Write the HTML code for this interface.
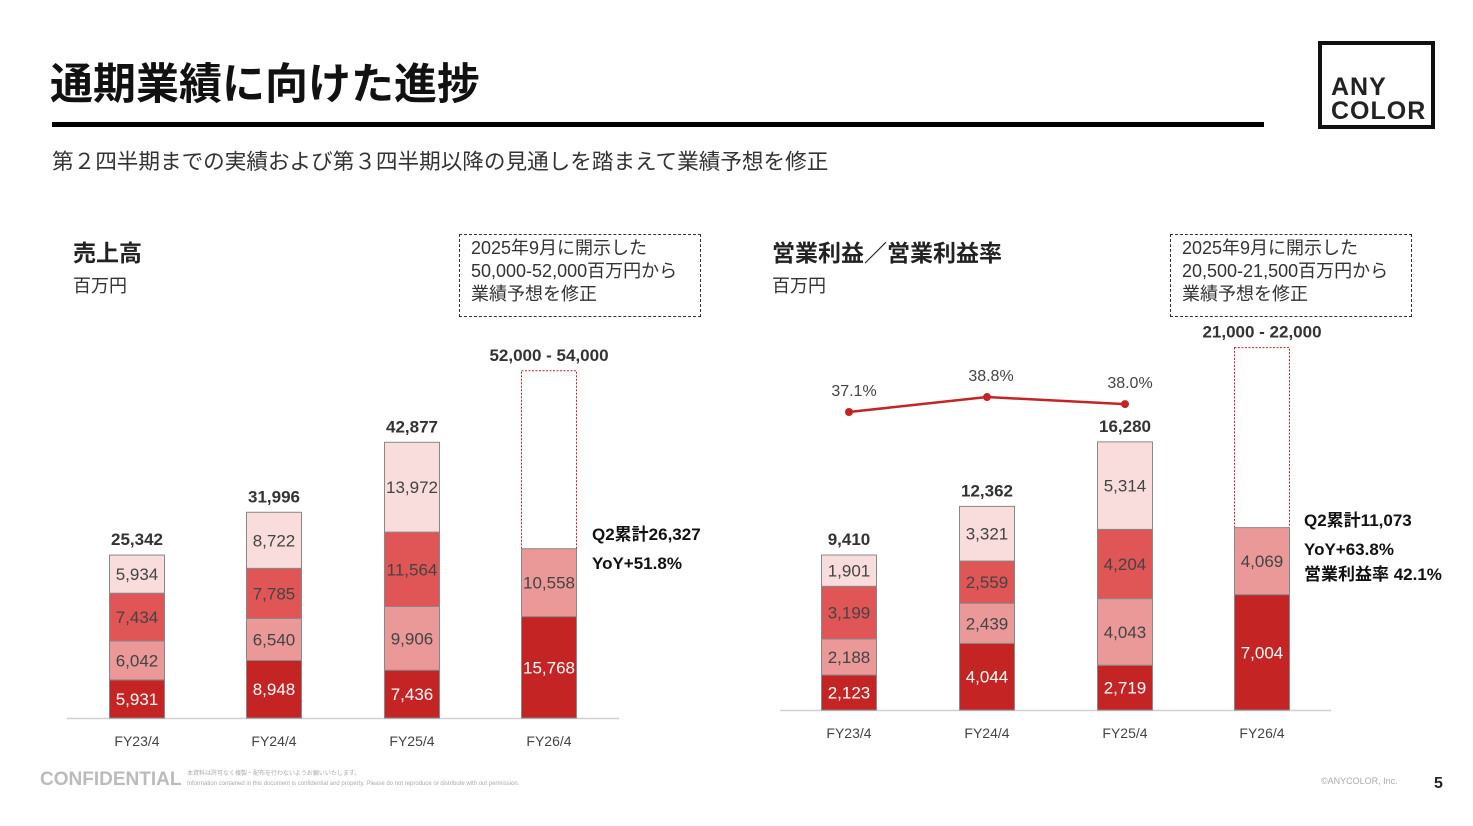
<!DOCTYPE html>
<html><head><meta charset="utf-8">
<style>
body{margin:0;width:1473px;height:826px;background:#fff;font-family:"Liberation Sans","Noto Sans CJK JP",sans-serif;position:relative;overflow:hidden;color:#222}
.abs{position:absolute}
.note{position:absolute;border:1.5px dashed #333;font-size:18px;line-height:23px;padding:2px 11px;color:#333;width:218px;height:78px;box-sizing:border-box}
</style></head><body>
<div class="abs" style="left:50px;top:50px;font-size:43px;font-weight:bold;color:#111">通期業績に向けた進捗</div>
<div class="abs" style="left:52px;top:122px;width:1212px;height:5px;background:#000"></div>
<div class="abs" style="left:1318px;top:41px;width:117px;height:88px;box-sizing:border-box;border:4px solid #111;font-weight:900;font-size:25px;line-height:24px;padding:30px 0 0 9px;letter-spacing:1px">ANY<br>COLOR</div>
<div class="abs" style="left:52px;top:145px;font-size:21.6px;color:#333">第２四半期までの実績および第３四半期以降の見通しを踏まえて業績予想を修正</div>

<div class="abs" style="left:73px;top:234px;font-size:23px;font-weight:bold">売上高</div>
<div class="abs" style="left:73px;top:272px;font-size:18px;color:#333">百万円</div>
<div class="note" style="left:459px;top:234px;width:242px;height:83px">2025年9月に開示した<br>50,000-52,000百万円から<br>業績予想を修正</div>

<div class="abs" style="left:772px;top:234px;font-size:23px;font-weight:bold">営業利益／営業利益率</div>
<div class="abs" style="left:772px;top:272px;font-size:18px;color:#333">百万円</div>
<div class="note" style="left:1170px;top:234px;width:242px;height:83px">2025年9月に開示した<br>20,500-21,500百万円から<br>業績予想を修正</div>

<svg class="abs" style="left:0;top:0" width="1473" height="826" id="chart"></svg>

<div class="abs" style="left:40px;top:769px;font-size:19px;font-weight:bold;color:#bbb">CONFIDENTIAL</div>
<div class="abs" style="left:187px;top:769px;font-size:6px;line-height:10px;color:#aaa">本資料は許可なく複製・配布を行わないようお願いいたします。<br>Information contained in this document is confidential and property. Please do not reproduce or distribute with out permission.</div>
<div class="abs" style="left:1321px;top:776px;font-size:9px;color:#aaa">©ANYCOLOR, Inc.</div>
<div class="abs" style="left:1434px;top:775px;font-size:16px;font-weight:bold">5</div>

<script>
const categories=["FY23/4","FY24/4","FY25/4","FY26/4"];
const salesQ1=[5931,8948,7436,15768];
const salesQ2=[6042,6540,9906,10558];
const salesQ3=[7434,7785,11564,null];
const salesQ4=[5934,8722,13972,null];
const salesTotals=["25,342","31,996","42,877","52,000 - 54,000"];
const salesForecastHigh=54000;
const opQ1=[2123,4044,2719,7004];
const opQ2=[2188,2439,4043,4069];
const opQ3=[3199,2559,4204,null];
const opQ4=[1901,3321,5314,null];
const opTotals=["9,410","12,362","16,280","21,000 - 22,000"];
const opForecastHigh=22000;
const opMargin=[37.1,38.8,38.0];

const svg=document.getElementById('chart');
const NS="http://www.w3.org/2000/svg";
function mk(tag,attrs,parent){const e=document.createElementNS(NS,tag);for(const k in attrs)e.setAttribute(k,attrs[k]);(parent||svg).appendChild(e);return e;}
function txt(x,y,s,size,fill,weight,anchor){const t=mk('text',{x:x,y:y,'font-size':size,fill:fill,'font-weight':weight||'normal','text-anchor':anchor||'middle','font-family':'"Liberation Sans","Noto Sans CJK JP",sans-serif'});t.textContent=s;return t;}
const colors=["#c52424","#ea9898","#e05555","#f9dcdc"];
const txtColors=["#fff","#444","#444","#444"];

function drawChart(cfg){
  const sy=v=>cfg.base-v*cfg.scale;
  const ax=mk('line',{x1:cfg.axis0,x2:cfg.axis1,y1:cfg.base+0.5,y2:cfg.base+0.5,stroke:'#d0d0d0','stroke-width':1.5});
  
  
  categories.forEach((c,i)=>{
    const cx=cfg.xs[i],w=55;
    let acc=0;
    if(i===3){
      const r=mk('rect',{x:cx-w/2,y:sy(cfg.high),width:w,height:cfg.high*cfg.scale,fill:'#fff',stroke:'#c52424','stroke-width':1,'stroke-dasharray':'2,1.5'});
      
      
    }
    cfg.series.forEach((s,k)=>{
      const v=s[i]; if(v==null)return;
      const y0=sy(acc),y1=sy(acc+v);
      const r=mk('rect',{x:cx-w/2,y:y1,width:w,height:y0-y1,fill:colors[k],stroke:'#888','stroke-width':1});
      
      
      txt(cx,(y0+y1)/2+6,v.toLocaleString('en-US'),17,txtColors[k]);
      acc+=v;
    });
    const top=i===3?sy(cfg.high):sy(acc);
    txt(cx,top-10,cfg.totals[i],17,'#333','bold');
    txt(cx,cfg.base+28,c,14,'#444');
  });
}
drawChart({name:'sales',base:718,scale:0.00643,axis0:67,axis1:619,xs:[137,274,412,549],series:[salesQ1,salesQ2,salesQ3,salesQ4],totals:salesTotals,high:salesForecastHigh});
drawChart({name:'op',base:710,scale:0.01647,axis0:780,axis1:1331,xs:[849,987,1125,1262],series:[opQ1,opQ2,opQ3,opQ4],totals:opTotals,high:opForecastHigh});

const my=v=>412-(v-37.1)*8.8;
const mx=[849,987,1125];
const pl=mk('polyline',{points:opMargin.map((v,i)=>mx[i]+','+my(v)).join(' '),fill:'none',stroke:'#c52424','stroke-width':2.5});


opMargin.forEach((v,i)=>{
  const c=mk('circle',{cx:mx[i],cy:my(v),r:4,fill:'#c52424'});
  
  
  txt(mx[i]+(i===1?4:5),my(v)-16,v.toFixed(1)+'%',16,'#444');
});

txt(592,540,'Q2累計26,327',17,'#111','bold','start');
txt(592,569,'YoY+51.8%',17,'#111','bold','start');
txt(1304,526,'Q2累計11,073',17,'#111','bold','start');
txt(1304,555,'YoY+63.8%',17,'#111','bold','start');
txt(1304,580,'営業利益率 42.1%',17,'#111','bold','start');
</script>
</body></html>
